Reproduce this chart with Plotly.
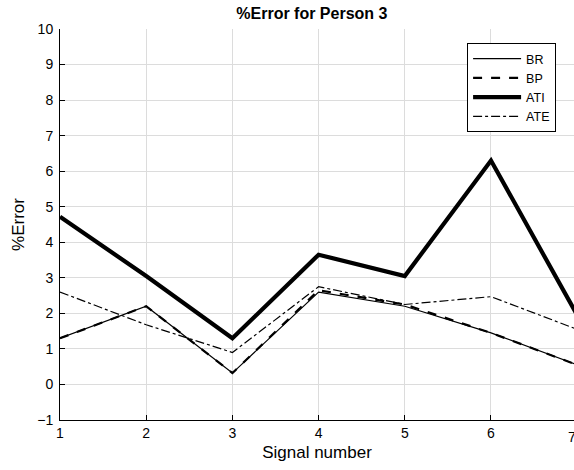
import plotly.graph_objects as go

signals = [1, 2, 3, 4, 5, 6, 7]
br = [1.3, 2.2, 0.32, 2.6, 2.2, 1.45, 0.55]
bp = [1.3, 2.2, 0.32, 2.65, 2.25, 1.45, 0.55]
ati = [4.72, 3.05, 1.3, 3.65, 3.05, 6.3, 1.95]
ate = [2.6, 1.68, 0.9, 2.75, 2.25, 2.47, 1.55]

series = [
    ("BR", br, 1.2, "solid"),
    ("BP", bp, 2.2, "dash"),
    ("ATI", ati, 4.2, "solid"),
    ("ATE", ate, 1.2, "dashdot"),
]

font = "Liberation Sans, Arial, sans-serif"
fig = go.Figure()
for name, vals, w, dash in series:
    fig.add_trace(go.Scatter(
        x=signals, y=vals, name=name, mode="lines",
        line=dict(color="black", width=w, dash=dash),
    ))

axis_common = dict(
    showgrid=True, gridcolor="#dcdcdc", gridwidth=1,
    showline=True, linecolor="black", linewidth=1,
    ticks="inside", ticklen=5, tickcolor="black",
    zeroline=False, tickfont=dict(family=font, size=14, color="black"),
)

fig.update_layout(
    width=574, height=470,
    margin=dict(l=60, r=0, t=29, b=50),
    plot_bgcolor="white", paper_bgcolor="white",
    title=dict(text="<b>%Error for Person 3</b>", x=0.49, xref="paper",
               xanchor="center", y=0.972, yanchor="middle",
               font=dict(family=font, size=16, color="black")),
    xaxis=dict(range=[1, 6.963], tickvals=signals[:-1], **axis_common,
               title=dict(text="Signal number", standoff=6,
                          font=dict(family=font, size=17, color="black"))),
    yaxis=dict(range=[-1, 10], dtick=1, ticklabelstandoff=3, **axis_common,
               title=dict(text="%Error", standoff=8,
                          font=dict(family=font, size=17, color="black"))),
    legend=dict(x=0.792, y=0.964, xanchor="left", yanchor="top",
                bgcolor="white", bordercolor="black", borderwidth=1,
                font=dict(family=font, size=12.5, color="black"),
                itemwidth=48, tracegroupgap=0),
    showlegend=True,
)

# label for the last signal, sitting at the clipped right edge
fig.add_annotation(x=1.008, xref="paper", y=-1, yref="y", yshift=-17,
                   text=str(signals[-1]), showarrow=False,
                   font=dict(family=font, size=14, color="black"))

fig.write_html("out.html")
